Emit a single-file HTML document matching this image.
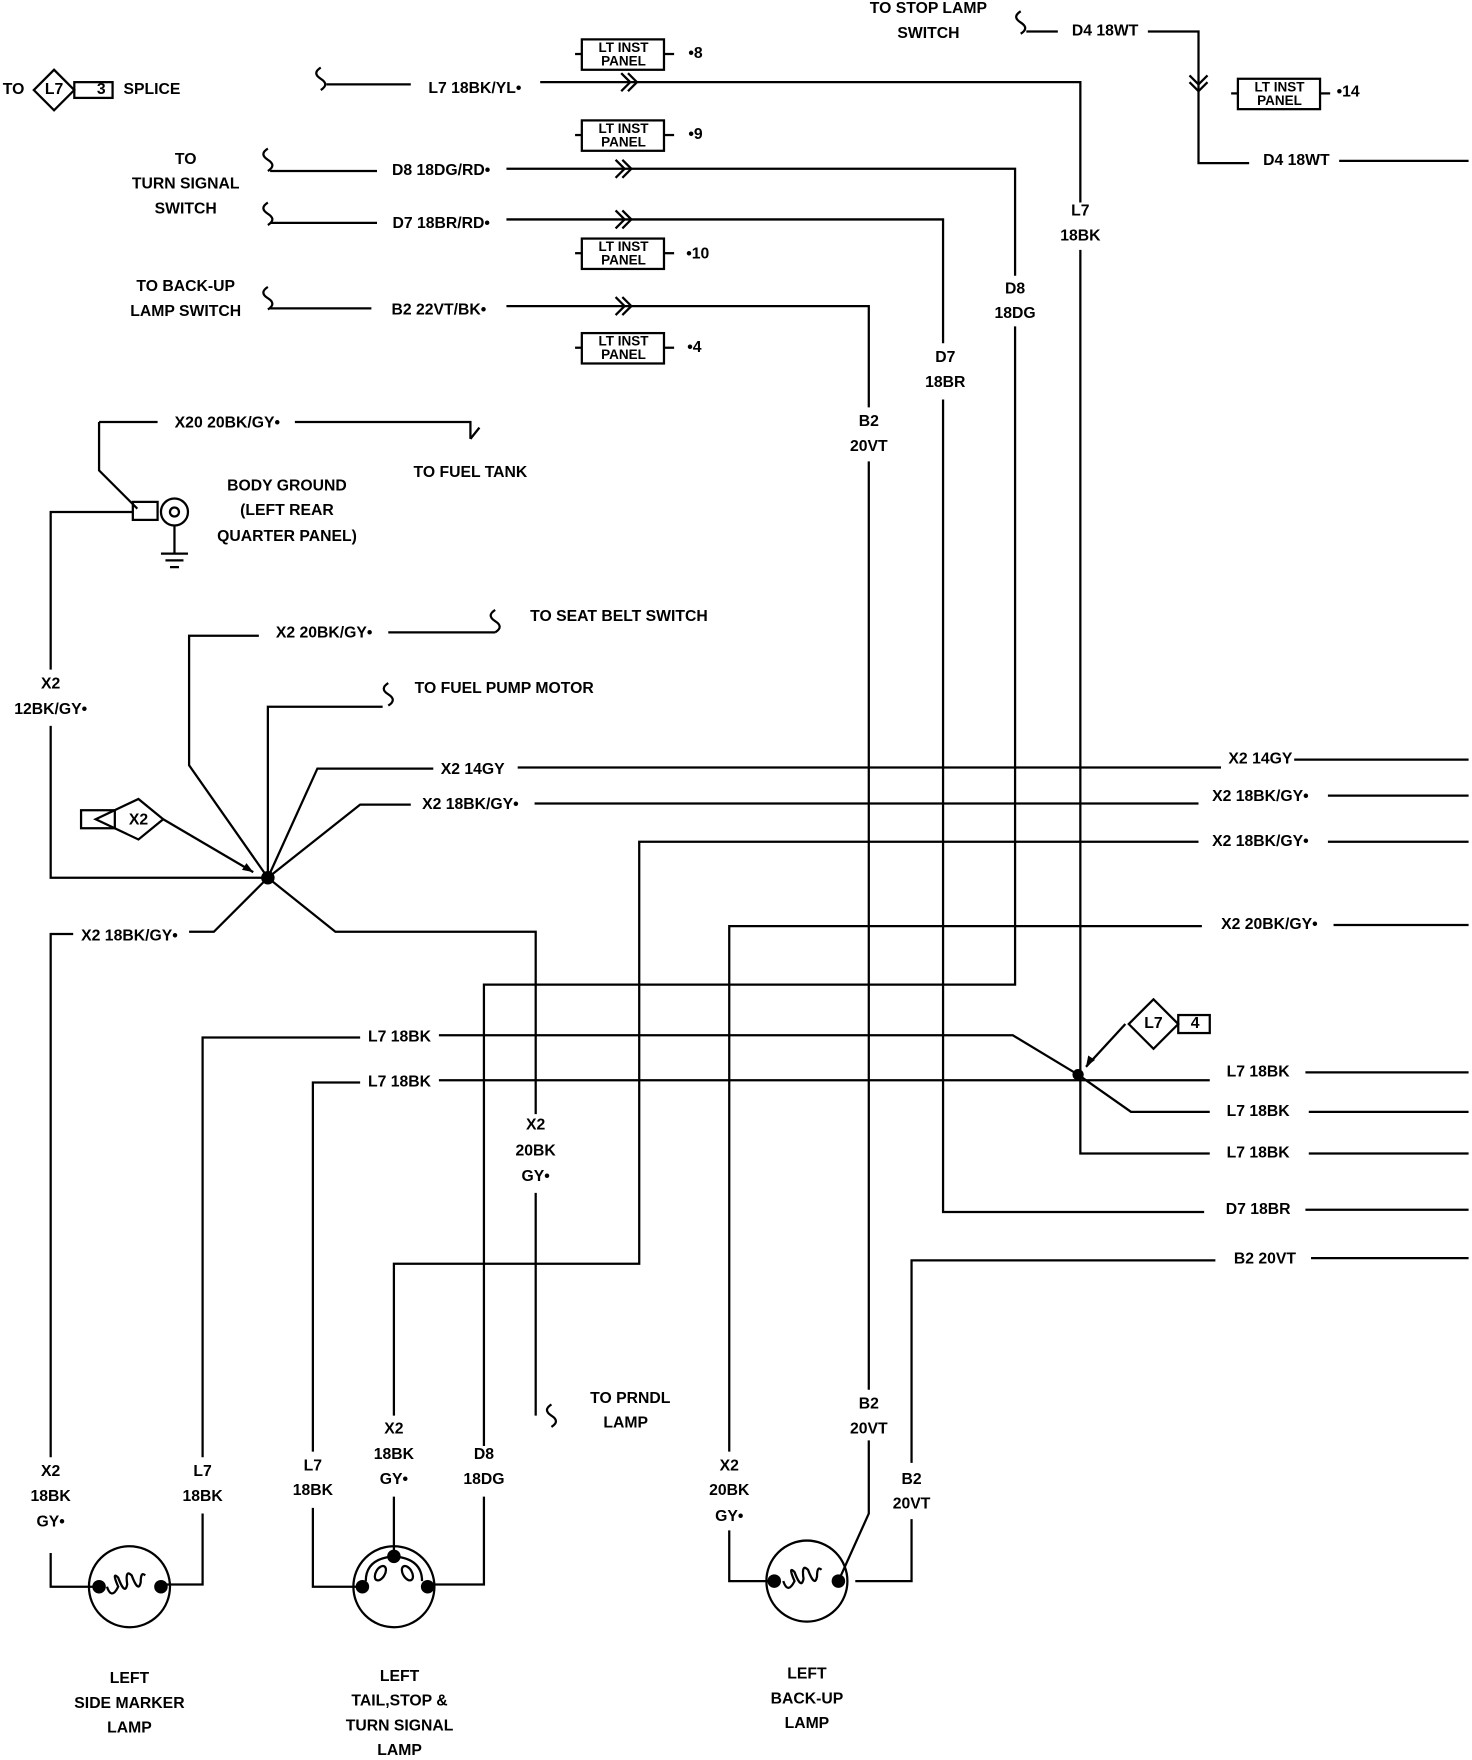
<!DOCTYPE html>
<html><head><meta charset="utf-8"><style>
html,body{margin:0;padding:0;background:#fff;}
svg{display:block}
text{font-family:"Liberation Sans",sans-serif;font-weight:bold;font-size:14px;fill:#000;text-anchor:middle;dominant-baseline:middle;}
.l{text-anchor:start}
.e{text-anchor:end}
</style></head><body>
<svg width="1472" height="1760" viewBox="0 0 1308 1564" xmlns="http://www.w3.org/2000/svg">
<defs>
<g id="chev"><path d="M-8,-8 L0,0 L-8,8 M-2,-8 L6,0 L-2,8" fill="none" stroke="#000" stroke-width="2"/></g>
<g id="sq"><path d="M0,-10 q-8,5 0,10 q8,5 0,10" fill="none" stroke="#000" stroke-width="2"/></g>
<g id="ltp">
<rect x="0" y="0" width="73" height="27" fill="#fff" stroke="#000" stroke-width="2"/>
<line x1="-6" y1="13" x2="0" y2="13" stroke="#000" stroke-width="2"/>
<line x1="73" y1="13" x2="82" y2="13" stroke="#000" stroke-width="2"/>
<text x="37" y="8" style="font-size:12px">LT INST</text>
<text x="37" y="20" style="font-size:12px">PANEL</text>
</g>
</defs>
<g fill="none" stroke="#000" stroke-width="2">
<!-- L7 top -->
<path d="M290,75 H365 M480,73 H960 V180 M960,222 V1025 H1075 M1163,1025 H1305"/>
<!-- D8 -->
<path d="M240,152 H335 M450,150 H902 V245 M902,290 V875 H430 V1285 M430,1330 V1408 H380"/>
<!-- D7 -->
<path d="M240,198 H335 M450,195 H838 V305 M838,355 V1077 H1070 M1160,1075 H1305"/>
<!-- B2 -->
<path d="M240,274 H330 M450,272 H772 V362 M772,410 V1235 M772,1280 V1345 L745,1405"/>
<path d="M1305,1118 H1165 M1080,1120 H810 V1300 M810,1350 V1405 H760"/>
<!-- D4 -->
<path d="M912,28 H940 M1020,28 H1065 V145 H1110 M1190,143 H1305"/>
<!-- ground -->
<path d="M88,375 H140 M262,375 H418 V390 M88,375 V418 L122,452"/>
<rect x="118" y="446" width="22" height="16"/>
<circle cx="155" cy="455" r="12"/><circle cx="155" cy="455" r="4"/>
<path d="M155,467 V492 M143,492 H167 M147,498 H163 M151,504 H159"/>
<path d="M118,455 H45 V595 M45,645 V780 H238"/>
<!-- splice branches -->
<path d="M238,780 L168,680 V565 H230 M345,562 H440"/>
<path d="M238,780 V628 H340"/>
<path d="M238,780 L282,683 H385 M460,682 H1085 M1150,675 H1305"/>
<path d="M238,780 L320,715 H365 M475,714 H1065 M1180,707 H1305"/>
<path d="M145,728 L225,775"/>
<path d="M238,780 L190,828 H168 M65,830 H45 V1295 M45,1380 V1410 H88"/>
<path d="M238,780 L298,828 H476 V990 M476,1060 V1258"/>
<path d="M1305,748 H1180 M1065,748 H568 V1123 H350 V1258 M350,1330 V1382"/>
<path d="M1305,822 H1185 M1068,823 H648 V1290 M648,1360 V1405 H688"/>
<!-- L7 lower -->
<path d="M320,922 H180 V1295 M180,1345 V1408 H145 M390,920 H900 L958,955"/>
<path d="M320,962 H278 V1290 M278,1340 V1410 H322 M390,960 H958 H1075 M1160,953 H1305"/>
<path d="M958,955 L1005,988 H1075 M1163,988 H1305"/>
<path d="M1000,910 L965,948"/>
<!-- lamps -->
<circle cx="115" cy="1410" r="36"/>
<circle cx="350" cy="1410" r="36"/>
<circle cx="717" cy="1405" r="36"/>
<path d="M95,1410 q4,12 10,0 q-6,-14 0,-8 q6,16 8,6 q-2,-14 4,-8 q6,16 8,6 q0,-10 4,-6"/>
<path d="M696,1405 q4,12 10,0 q-6,-14 0,-8 q6,16 8,6 q-2,-14 4,-8 q6,16 8,6 q0,-10 4,-6"/>
<path d="M325,1405 q0,-20 25,-22 q25,2 25,22"/>
<ellipse cx="338" cy="1398" rx="4" ry="7" transform="rotate(30 338 1398)"/>
<ellipse cx="362" cy="1398" rx="4" ry="7" transform="rotate(-30 362 1398)"/>
<!-- diamonds -->
<path d="M30,80 L48,62 L66,80 L48,98 Z"/><rect x="66" y="73" width="34" height="14"/>
<path d="M85,728 L123,710 L145,728 L123,746 Z"/><rect x="72" y="720" width="30" height="16"/>
<path d="M1003,910 L1025,888 L1047,910 L1025,932 Z"/><rect x="1047" y="902" width="28" height="16"/>
</g>
<g fill="#000">
<circle cx="238" cy="780" r="6"/><circle cx="958" cy="955" r="5"/>
<circle cx="88" cy="1410" r="6"/><circle cx="143" cy="1410" r="6"/>
<circle cx="322" cy="1410" r="6"/><circle cx="380" cy="1410" r="6"/><circle cx="350" cy="1383" r="6"/>
<circle cx="688" cy="1405" r="6"/><circle cx="745" cy="1405" r="6"/>
<path d="M225,775 l-10,-2 l4,-6z"/>
<path d="M965,948 l2,-10 l6,4z"/>
</g>
<!-- chevrons -->
<use href="#chev" x="560" y="73"/><use href="#chev" x="555" y="150"/><use href="#chev" x="555" y="195"/><use href="#chev" x="555" y="272"/>
<path d="M1057,67 L1065,75 L1073,67 M1057,73 L1065,81 L1073,73" fill="none" stroke="#000" stroke-width="2"/>
<!-- squiggles -->
<use href="#sq" x="285" y="70"/><use href="#sq" x="238" y="142"/><use href="#sq" x="238" y="190"/><use href="#sq" x="238" y="265"/>
<use href="#sq" x="907" y="20"/><use href="#sq" x="440" y="552"/><use href="#sq" x="345" y="617"/><use href="#sq" x="490" y="1258"/>
<path d="M418,390 l8,-10" stroke="#000" stroke-width="2"/>
<use href="#ltp" x="517" y="35"/><use href="#ltp" x="517" y="107"/><use href="#ltp" x="517" y="212"/><use href="#ltp" x="517" y="296"/><use href="#ltp" x="1100" y="70"/>
<text x="618" y="48">•8</text><text x="618" y="120">•9</text><text x="620" y="226">•10</text><text x="617" y="309">•4</text><text x="1198" y="82">•14</text>
<text x="12" y="80">TO</text><text x="48" y="80">L7</text><text x="90" y="80">3</text><text x="135" y="80">SPLICE</text>
<text x="422" y="79">L7 18BK/YL•</text>
<text x="392" y="152">D8 18DG/RD•</text><text x="392" y="199">D7 18BR/RD•</text><text x="390" y="276">B2 22VT/BK•</text>
<text x="165" y="142">TO</text><text x="165" y="164">TURN SIGNAL</text><text x="165" y="186">SWITCH</text>
<text x="165" y="255">TO BACK-UP</text><text x="165" y="277">LAMP SWITCH</text>
<text x="825" y="8">TO STOP LAMP</text><text x="825" y="30">SWITCH</text>
<text x="982" y="28">D4 18WT</text><text x="1152" y="143">D4 18WT</text>
<text x="960" y="188">L7</text><text x="960" y="210">18BK</text>
<text x="902" y="257">D8</text><text x="902" y="279">18DG</text>
<text x="840" y="318">D7</text><text x="840" y="340">18BR</text>
<text x="772" y="375">B2</text><text x="772" y="397">20VT</text>
<text x="202" y="376">X20 20BK/GY•</text><text x="418" y="420">TO FUEL TANK</text>
<text x="255" y="432">BODY GROUND</text><text x="255" y="454">(LEFT REAR</text><text x="255" y="477">QUARTER PANEL)</text>
<text x="45" y="608">X2</text><text x="45" y="631">12BK/GY•</text>
<text x="288" y="563">X2 20BK/GY•</text><text x="550" y="548">TO SEAT BELT SWITCH</text>
<text x="448" y="612">TO FUEL PUMP MOTOR</text>
<text x="420" y="684">X2 14GY</text><text x="1120" y="675">X2 14GY</text>
<text x="418" y="715">X2 18BK/GY•</text><text x="1120" y="708">X2 18BK/GY•</text><text x="1120" y="748">X2 18BK/GY•</text>
<text x="1128" y="822">X2 20BK/GY•</text>
<text x="123" y="729">X2</text>
<text x="115" y="832">X2 18BK/GY•</text>
<text x="1025" y="910">L7</text><text x="1062" y="910">4</text>
<text x="355" y="922">L7 18BK</text><text x="355" y="962">L7 18BK</text>
<text x="1118" y="953">L7 18BK</text><text x="1118" y="988">L7 18BK</text><text x="1118" y="1025">L7 18BK</text>
<text x="1118" y="1075">D7 18BR</text><text x="1124" y="1119">B2 20VT</text>
<text x="476" y="1000">X2</text><text x="476" y="1023">20BK</text><text x="476" y="1046">GY•</text>
<text x="560" y="1243">TO PRNDL</text><text x="556" y="1265">LAMP</text>
<text x="772" y="1248">B2</text><text x="772" y="1270">20VT</text>
<text x="810" y="1315">B2</text><text x="810" y="1337">20VT</text>
<text x="45" y="1308">X2</text><text x="45" y="1330">18BK</text><text x="45" y="1353">GY•</text>
<text x="180" y="1308">L7</text><text x="180" y="1330">18BK</text>
<text x="278" y="1303">L7</text><text x="278" y="1325">18BK</text>
<text x="350" y="1270">X2</text><text x="350" y="1293">18BK</text><text x="350" y="1315">GY•</text>
<text x="430" y="1293">D8</text><text x="430" y="1315">18DG</text>
<text x="648" y="1303">X2</text><text x="648" y="1325">20BK</text><text x="648" y="1348">GY•</text>
<text x="115" y="1492">LEFT</text><text x="115" y="1514">SIDE MARKER</text><text x="115" y="1536">LAMP</text>
<text x="355" y="1490">LEFT</text><text x="355" y="1512">TAIL,STOP &amp;</text><text x="355" y="1534">TURN SIGNAL</text><text x="355" y="1556">LAMP</text>
<text x="717" y="1488">LEFT</text><text x="717" y="1510">BACK-UP</text><text x="717" y="1532">LAMP</text>
</svg>
</body></html>
